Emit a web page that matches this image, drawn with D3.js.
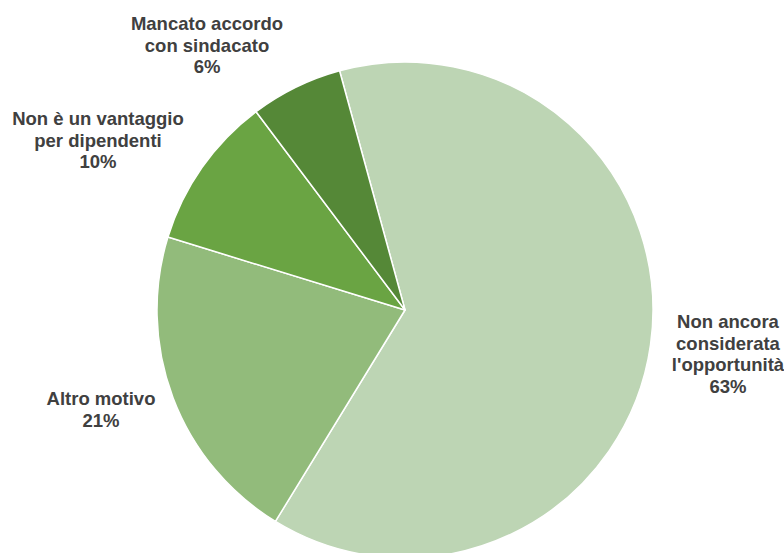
<!DOCTYPE html>
<html>
<head>
<meta charset="utf-8">
<script src="https://cdn.jsdelivr.net/npm/d3@7"></script>
<style>
  html, body { margin: 0; padding: 0; background: #ffffff; overflow: hidden; }
  svg { display: block; }
  text { font-family: "Liberation Sans", Arial, sans-serif; font-weight: bold; fill: #404040; }
</style>
</head>
<body>
<svg id="chart" width="784" height="553"></svg>
<script>
// Reasons data
const categories = [
  ["Non ancora", "considerata", "l'opportunità"],
  ["Altro motivo"],
  ["Non è un vantaggio", "per dipendenti"],
  ["Mancato accordo", "con sindacato"]
];
const values = [63, 21, 10, 6];
const colors = ["#bdd5b4", "#92bb7b", "#6aa443", "#558837"];

// Label anchor points (centre x, first baseline y)
const labelPos = [
  [728, 328],
  [101, 405],
  [98, 125],
  [207, 30]
];

const svg = d3.select("#chart");
const cx = 405, cy = 310, radius = 248;
const start = -15.3 * Math.PI / 180;

const pie = d3.pie().sort(null).value(d => d)
  .startAngle(start).endAngle(start + 2 * Math.PI);
const arc = d3.arc().innerRadius(0).outerRadius(radius);

const g = svg.append("g").attr("transform", `translate(${cx},${cy})`);
g.selectAll("path")
  .data(pie(values))
  .join("path")
  .attr("d", arc)
  .attr("fill", (d, i) => colors[i])
  .attr("stroke", "#ffffff")
  .attr("stroke-width", 1.5)
  .attr("stroke-linejoin", "round");

const total = d3.sum(values);
const lineH = 21.5;
categories.forEach((lines, i) => {
  const all = lines.concat([d3.format(".0%")(values[i] / total)]);
  const t = svg.append("text")
    .attr("x", labelPos[i][0])
    .attr("y", labelPos[i][1])
    .attr("text-anchor", "middle")
    .attr("font-size", 18.5);
  all.forEach((s, k) => {
    t.append("tspan")
      .attr("x", labelPos[i][0])
      .attr("y", labelPos[i][1] + k * lineH)
      .text(s);
  });
});
</script>
</body>
</html>
